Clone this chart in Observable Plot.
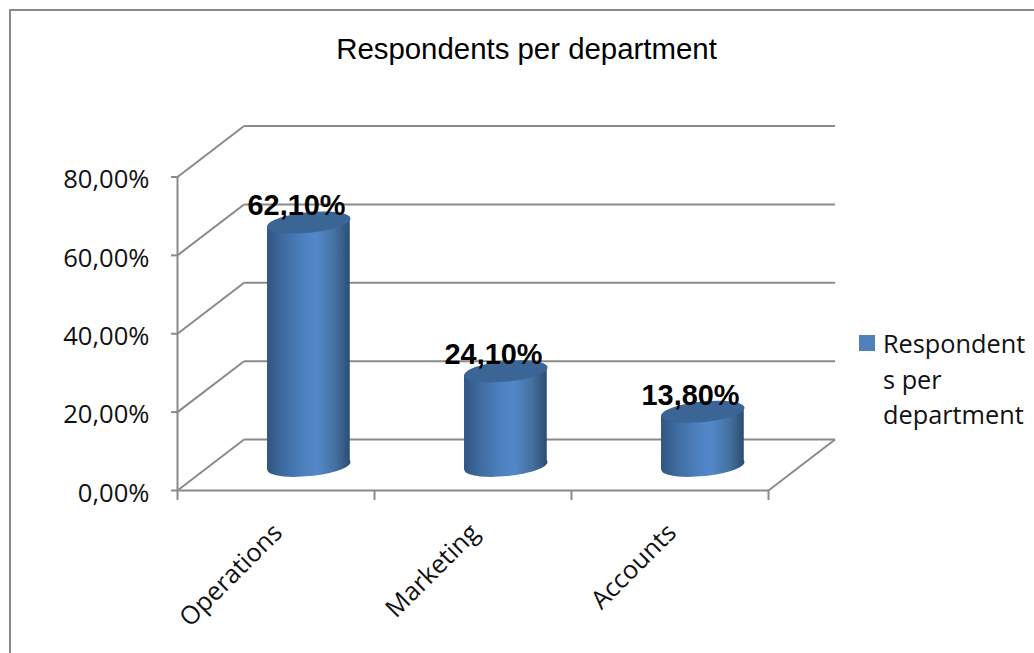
<!DOCTYPE html>
<html>
<head>
<meta charset="utf-8">
<script src="https://cdn.jsdelivr.net/npm/d3@7"></script>
<script src="https://cdn.jsdelivr.net/npm/@observablehq/plot@0.6"></script>
<style>
html,body{margin:0;padding:0;background:#fff;}
#chart{position:relative;width:1034px;height:653px;overflow:hidden;}
#frame{position:absolute;left:9px;top:9px;width:1040px;height:700px;border:2px solid #8a8a8a;box-sizing:border-box;}
#title{position:absolute;left:0;top:30px;width:1053px;text-align:center;font:29.4px "Liberation Sans",Arial,sans-serif;color:#000;line-height:38px;}
#legend{position:absolute;left:859px;top:326px;font:25.3px "Open Sans",sans-serif;color:#111;}
#legend .sw{position:absolute;left:0;top:9px;width:16px;height:16px;background:#4f81bd;}
#legend .tx{position:absolute;left:24px;top:0;line-height:35.5px;white-space:nowrap;}
svg{position:absolute;left:0;top:0;}
</style>
</head>
<body>
<div id="chart">
  <div id="frame"></div>
  <div id="title">Respondents per department</div>
  <div id="legend"><span class="sw"></span><span class="tx">Respondent<br>s per<br>department</span></div>
</div>
<script>
const departments = ["Operations", "Marketing", "Accounts"];
const shares = [62.1, 24.1, 13.8];
const shareLabels = ["62,10%", "24,10%", "13,80%"];
const yTicks = [0, 20, 40, 60, 80];
const yTickLabels = ["0,00%", "20,00%", "40,00%", "60,00%", "80,00%"];

// depth of the 3D box in data units
const depthX = 0.338, depthY = 13;
const barOffsetX = 0.167, barOffsetY = 6.3, barHalf = 0.21, tilt = 1.05;

const slots = departments.map((d, i) => ({d, i, v: shares[i], label: shareLabels[i], cx: i + 0.5 + barOffsetX}));
const body = slots.flatMap(s => [
  {d: s.d, x: s.cx - barHalf, y1: barOffsetY - tilt, y2: s.v + barOffsetY - tilt},
  {d: s.d, x: s.cx + barHalf, y1: barOffsetY + tilt, y2: s.v + barOffsetY + tilt}
]);

function ellipseSymbol(a, b, slope) {
  const k = 0.5523, c = Math.cos(slope), n = Math.sin(slope);
  const P = (x, y) => [x * c - y * n, x * n + y * c];
  return {draw(ctx) {
    ctx.moveTo(...P(a, 0));
    ctx.bezierCurveTo(...P(a, k * b), ...P(k * a, b), ...P(0, b));
    ctx.bezierCurveTo(...P(-k * a, b), ...P(-a, k * b), ...P(-a, 0));
    ctx.bezierCurveTo(...P(-a, -k * b), ...P(-k * a, -b), ...P(0, -b));
    ctx.bezierCurveTo(...P(k * a, -b), ...P(a, -k * b), ...P(a, 0));
    ctx.closePath();
  }};
}
const cap = ellipseSymbol(41.8, 10.3, -0.1);

function defs() {
  const el = document.createElementNS("http://www.w3.org/2000/svg", "defs");
  el.innerHTML = `<linearGradient id="cyl" x1="0" x2="1" y1="0" y2="0">
    <stop offset="0" stop-color="#2f5680"/>
    <stop offset="0.18" stop-color="#3e6a9f"/>
    <stop offset="0.42" stop-color="#4c7fbd"/>
    <stop offset="0.6" stop-color="#5288ca"/>
    <stop offset="0.82" stop-color="#44719f"/>
    <stop offset="1" stop-color="#2c4d72"/>
  </linearGradient>`;
  return el;
}

const gridColor = "#8a8a8a", gridWidth = 2;
const chart = Plot.plot({
  width: 1034, height: 653,
  marginLeft: 177, marginRight: 266, marginTop: 176.5, marginBottom: 163,
  x: {type: "linear", domain: [0, 3], axis: null},
  y: {type: "linear", domain: [0, 80], axis: null},
  style: {background: "transparent", overflow: "visible"},
  marks: [
    defs,
    // back wall gridlines
    Plot.link(yTicks, {x1: depthX, x2: 3 + depthX, y1: v => v + depthY, y2: v => v + depthY, stroke: gridColor, strokeWidth: gridWidth}),
    // side wall gridlines
    Plot.link(yTicks, {x1: 0, x2: depthX, y1: v => v, y2: v => v + depthY, stroke: gridColor, strokeWidth: gridWidth}),
    // floor right edge
    Plot.link([0], {x1: 3, x2: 3 + depthX, y1: 0, y2: depthY, stroke: gridColor, strokeWidth: gridWidth}),
    // axes
    Plot.ruleX([0], {y1: 0, y2: 80, stroke: gridColor, strokeWidth: gridWidth}),
    Plot.ruleY([0], {x1: 0, x2: 3, stroke: gridColor, strokeWidth: gridWidth}),
    Plot.axisY({ticks: yTicks, tickSize: 6, stroke: gridColor, strokeWidth: gridWidth, tickFormat: v => yTickLabels[yTicks.indexOf(v)], label: null, fontSize: 25.6, fontFamily: "Open Sans", fill: "#111", tickPadding: 22}),
    Plot.axisX({ticks: [0, 1, 2, 3], tickSize: 10, stroke: gridColor, strokeWidth: gridWidth, tickFormat: () => "", label: null}),
    // category labels
    Plot.text(slots, {x: d => d.i + 0.5, y: 0, text: "d", rotate: -45, textAnchor: "end", lineAnchor: "middle", dx: 2, dy: 38, fontSize: 25.4, fontFamily: "Open Sans", fill: "#111"}),
    // cylinders
    Plot.dot(slots, {x: "cx", y: barOffsetY, symbol: cap, fill: "url(#cyl)", stroke: "none"}),
    Plot.area(body, {x1: "x", y1: "y1", y2: "y2", z: "d", fill: "url(#cyl)"}),
    Plot.dot(slots, {x: "cx", y: d => d.v + barOffsetY, symbol: cap, fill: "#3a6594", stroke: "none"}),
    // value labels
    Plot.text(slots, {x: d => d.i + 0.5, y: "v", text: "label", dx: 20.5, dy: -41, fontSize: 28.9, fontWeight: "bold", fontFamily: "Liberation Sans", fill: "#000", lineAnchor: "middle"})
  ]
});
// tick labels sit slightly below their ticks in the reference
chart.querySelectorAll('[aria-label="y-axis tick label"] text').forEach(t => t.setAttribute("dy", "3"));
document.getElementById("chart").appendChild(chart);
</script>
</body>
</html>
